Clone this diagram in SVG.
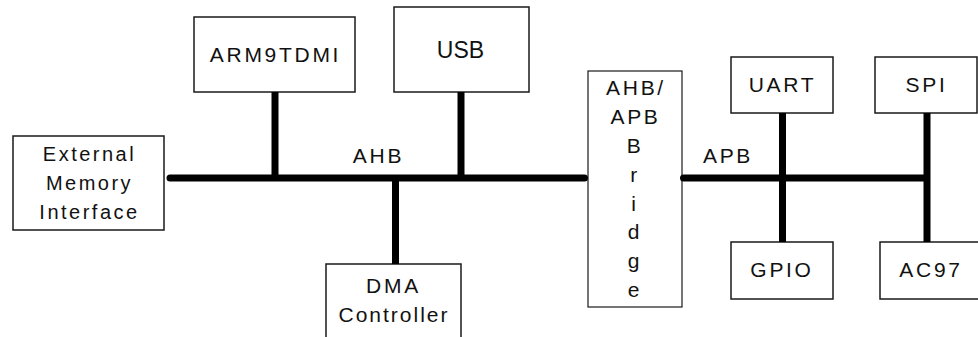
<svg xmlns="http://www.w3.org/2000/svg" width="978" height="337" viewBox="0 0 978 337">
<style>
.box{fill:#fff;stroke:#1a1a1a;stroke-width:1.5}
.bus{stroke:#000;stroke-width:7;stroke-linecap:round;fill:none}
.stub{stroke:#000;stroke-width:7;stroke-linecap:butt;fill:none}
text{font-family:"Liberation Sans",Arial,Helvetica,sans-serif;font-size:21px;fill:#111;text-anchor:middle;letter-spacing:2.7px}
.sm{font-size:20px;letter-spacing:2.5px}
.usb{font-size:23px;letter-spacing:0}
.ctl{letter-spacing:2px}
</style>
<rect width="978" height="337" fill="#fff"/>
<g id="emi">
<rect class="box" x="13" y="136" width="151" height="94"/>
<text class="sm" x="89.5" y="161">External</text>
<text class="sm" x="89.5" y="190">Memory</text>
<text class="sm" x="89.5" y="219">Interface</text>
</g>
<g id="arm">
<rect class="box" x="194" y="17" width="161" height="75"/>
<text x="275.5" y="62">ARM9TDMI</text>
</g>
<g id="usb">
<rect class="box" x="394" y="7" width="135" height="85"/>
<text class="usb" x="460.5" y="58">USB</text>
</g>
<g id="ahb-label">
<text x="378.5" y="163">AHB</text>
</g>
<g id="dma">
<rect class="box" x="326" y="264" width="135" height="80"/>
<text x="393.5" y="293">DMA</text>
<text class="ctl" x="394" y="322">Controller</text>
</g>
<g id="bridge">
<rect class="box" x="588" y="71" width="94" height="236" style="stroke-width:1.2"/>
<text x="636" y="95">AHB/</text>
<text x="635.5" y="124">APB</text>
<text x="635" y="153">B</text>
<text x="635" y="181.5">r</text>
<text x="635" y="210.5">i</text>
<text x="635" y="239">d</text>
<text x="635" y="268">g</text>
<text x="635" y="296.5">e</text>
</g>
<g id="apb-label">
<text x="728" y="163">APB</text>
</g>
<g id="uart">
<rect class="box" x="731" y="57" width="102" height="56"/>
<text x="782.5" y="92">UART</text>
</g>
<g id="gpio">
<rect class="box" x="731" y="242" width="102" height="57"/>
<text x="782" y="277">GPIO</text>
</g>
<g id="spi">
<rect class="box" x="875" y="57" width="102" height="56"/>
<text x="926.5" y="92">SPI</text>
</g>
<g id="ac97">
<rect class="box" x="880" y="242" width="100" height="57"/>
<text x="931" y="277">AC97</text>
</g>
<g id="connectors">
<line class="bus" x1="170" y1="178" x2="584.5" y2="178"/>
<line class="bus" x1="683.5" y1="178" x2="925" y2="178"/>
<line class="stub" x1="275" y1="92" x2="275" y2="178"/>
<line class="stub" x1="461" y1="92" x2="461" y2="178"/>
<line class="stub" x1="395.5" y1="178" x2="395.5" y2="264"/>
<line class="stub" x1="782.5" y1="113" x2="782.5" y2="242"/>
<line class="stub" x1="927" y1="113" x2="927" y2="242"/>
</g>
</svg>
